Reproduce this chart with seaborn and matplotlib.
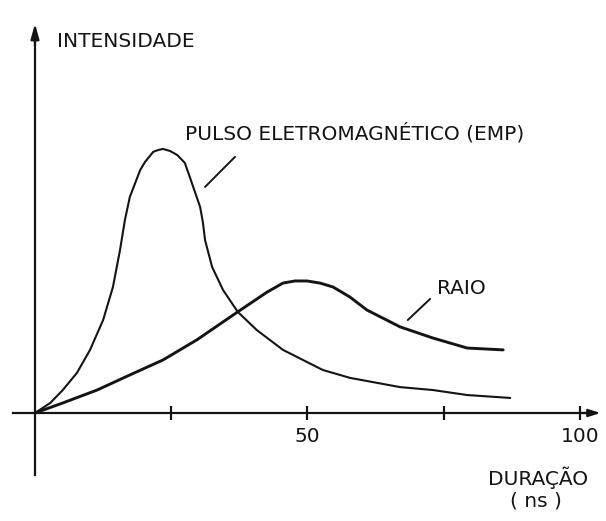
import pandas as pd
import seaborn as sns
import matplotlib.pyplot as plt

# duration (ns) and intensity (arbitrary units)
emp_t = [0, 2.8, 5.1, 7.7, 10.1, 12.5, 14.3, 15.6, 16.5, 17.4, 19.3, 20.2, 21.7,
         22.6, 23.5, 24.8, 26.1, 27.5, 28.4, 30.3, 30.8, 31.2, 32.5, 34.5, 37.2,
         40.7, 45.5, 52.8, 57.8, 67.0, 73.0, 79.3, 87.2]
emp_i = [0, 3.8, 8.7, 15.2, 23.9, 35.2, 47.7, 61.7, 73.1, 81.8, 92.0, 95.1, 98.9,
         99.6, 100, 99.2, 97.7, 94.7, 89.4, 78.0, 72.3, 65.5, 55.3, 46.6, 38.3,
         31.4, 23.9, 16.3, 13.3, 9.8, 8.7, 6.8, 5.7]

raio_t = [0, 5.1, 11.4, 17.4, 23.5, 29.7, 37.2, 42.6, 45.5, 47.7, 49.9, 52.3,
          54.7, 57.8, 60.9, 67.0, 73.0, 79.3, 85.9]
raio_i = [0, 3.8, 8.7, 14.4, 20.1, 27.7, 38.3, 45.8, 49.2, 50.0, 50.0, 49.2,
          47.7, 43.9, 39.0, 32.6, 28.4, 24.6, 23.9]

tick_pos = [25, 50, 75, 100]
tick_lab = ['', '50', '', '100']

ink = '#141414'

sns.set_style('white')
plt.rcParams['font.family'] = ['DejaVu Sans']

emp = pd.DataFrame({'t': emp_t, 'i': emp_i})
raio = pd.DataFrame({'t': raio_t, 'i': raio_i})

fig = plt.figure(figsize=(6.06, 5.21), dpi=100)
ax = fig.add_axes([0, 0, 1, 1])

sns.lineplot(data=emp, x='t', y='i', ax=ax, color=ink, linewidth=1.5)
sns.lineplot(data=raio, x='t', y='i', ax=ax, color=ink, linewidth=2.1)

ax.set_xlim(-6.42, 104.77)
ax.set_ylim(-40.9, 156.4)
ax.set_xlabel('')
ax.set_ylabel('')

# axes through the origin
for side in ['top', 'right']:
    ax.spines[side].set_visible(False)
ax.spines['left'].set_position(('data', 0))
ax.spines['bottom'].set_position(('data', 0))
ax.spines['left'].set_bounds(-23.5, 142)
ax.spines['bottom'].set_bounds(-4.0, 101)
for side in ['left', 'bottom']:
    ax.spines[side].set_linewidth(1.6)
    ax.spines[side].set_color(ink)

ax.annotate('', xy=(0, 148.5), xytext=(0, 138),
            arrowprops=dict(arrowstyle='-|>,head_length=0.9,head_width=0.25',
                            color=ink, lw=1.6))
ax.annotate('', xy=(104.3, 0), xytext=(100, 0),
            arrowprops=dict(arrowstyle='-|>,head_length=0.7,head_width=0.22',
                            color=ink, lw=1.6))

ax.set_yticks([])
ax.set_xticks(tick_pos)
ax.set_xticklabels(tick_lab)
ax.tick_params(axis='x', direction='inout', length=10, width=1.6, color=ink,
               pad=5, labelsize=14.5, labelcolor=ink, bottom=True)

txt = dict(color=ink, fontsize=14.5)
ax.text(4.0, 140.5, 'INTENSIDADE', ha='left', va='center', **txt)
ax.text(27.5, 106, 'PULSO ELETROMAGNÉTICO (EMP)', ha='left', va='center', **txt)
ax.text(73.8, 47.0, 'RAIO', ha='left', va='center', **txt)
ax.text(92.3, -24.6, 'DURAÇÃO', ha='center', va='center', **txt)
ax.text(91.9, -33.5, '( ns )', ha='center', va='center', **txt)

# leader lines
ax.plot([36.7, 31.2], [97.0, 85.6], color=ink, linewidth=1.4)
ax.plot([72.5, 68.4], [43.2, 35.2], color=ink, linewidth=1.4)

fig.savefig('out.png', dpi=100, facecolor='white')
